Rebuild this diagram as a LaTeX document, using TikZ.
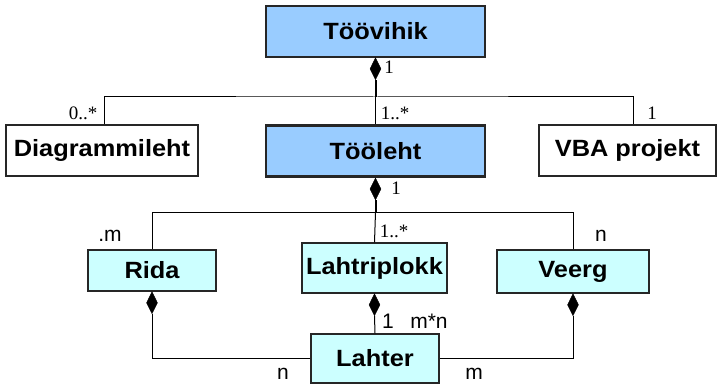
\documentclass[tikz,border=0pt]{standalone}
\usepackage{fontspec}
\setmainfont{Liberation Serif}
\setsansfont{Liberation Sans}
\newfontfamily\clsfont[FakeStretch=1.08]{Liberation Sans}
\usepackage{xcolor}
\usepackage{tikz}
\usetikzlibrary{shapes}
\usetikzlibrary{calc}

\definecolor{topblue}{HTML}{99CCFF}
\definecolor{lowcyan}{HTML}{CCFFFF}

\begin{document}
\begin{tikzpicture}[x=1pt,y=-1pt]%%workbook

                \tikzstyle{cls}  = [rectangle, draw=black!85, line width=1.2pt, inner sep=0pt,
                                    font=\clsfont\bfseries\fontsize{23.5}{23.5}\selectfont]
                \tikzstyle{diam} = [diamond, fill=black, draw=black, inner sep=0pt,
                                    minimum width=11pt, minimum height=22pt, anchor=north]
                \tikzstyle{mult} = [inner sep=0pt, font=\fontsize{19}{19}\selectfont]
                \tikzstyle{smult} = [inner sep=0pt, font=\sffamily\fontsize{21}{21}\selectfont]

                \useasboundingbox (0,0) rectangle (720,387);

                \node [cls, fill=topblue, minimum width=219pt, minimum height=51pt](toovihik) at (375.5,31.5) {Töövihik};
                \node [cls, fill=topblue, line width=2.6pt, minimum width=219pt, minimum height=51pt](tooleht) at (375.5,151) {Tööleht};
                \node [cls, fill=white, minimum width=192pt, minimum height=51pt](diagr) at (102,150.5) {Diagrammileht};
                \node [cls, fill=white, minimum width=177pt, minimum height=51pt](vba) at (627.5,150.5) {VBA projekt};

                \node [cls, fill=lowcyan, minimum width=128pt, minimum height=41pt](rida) at (152,270.5) {Rida};
                \node [cls, fill=lowcyan, minimum width=145pt, minimum height=50pt](plokk) at (374.5,268) {Lahtriplokk};
                \node [cls, fill=lowcyan, minimum width=152pt, minimum height=43pt](veerg) at (573,271.5) {Veerg};
                \node [cls, fill=lowcyan, minimum width=128pt, minimum height=49pt](lahter) at (375,358.5) {Lahter};

                \foreach \b/\d in {toovihik/d1, tooleht/d2, rida/d3, plokk/d4, veerg/d5}{
                        \node [diam](\d) at (\b.south) {};
                }

                % workbook parts
                \coordinate (j1) at ($(d1.south)+(0,17)$);
                \draw [line width=2pt] (d1.south) -- (j1);
                \draw [line width=1pt] ($(diagr.north)+(2,0)$) |- (j1) -| ($(vba.north)+(6,0)$);
                \draw [line width=1pt] (j1) -- (tooleht.north);

                % sheet parts
                \coordinate (j2) at ($(d2.south)+(0,12)$);
                \draw [line width=2pt] (d2.south) -- (j2);
                \draw [line width=1pt] (rida.north) |- (j2) -| (veerg.north);
                \draw [line width=1pt] (j2) -- (plokk.north);

                % cells
                \draw [line width=1pt] (d3.south) |- (lahter.west);
                \draw [line width=1pt] (d5.south) |- (lahter.east);
                \draw [line width=1pt] (d4.south) -- (lahter.north);

                \node [mult](m1) at (389,67) {1};
                \node [mult](m2) at (83,113) {0..*};
                \node [mult](m3) at (395,113) {1..*};
                \node [mult](m4) at (652,113) {1};
                \node [mult](m5) at (396,188) {1};
                \node [mult](m6) at (394,231) {1..*};
                \node [smult](m7) at (110,236) {.m};
                \node [smult](m8) at (601,236) {n};
                \node [smult](m9) at (388,321) {1};
                \node [smult](m10) at (429,321) {m*n};
                \node [smult](m11) at (283,374) {n};
                \node [smult](m12) at (474,374) {m};
\end{tikzpicture}
\end{document}
